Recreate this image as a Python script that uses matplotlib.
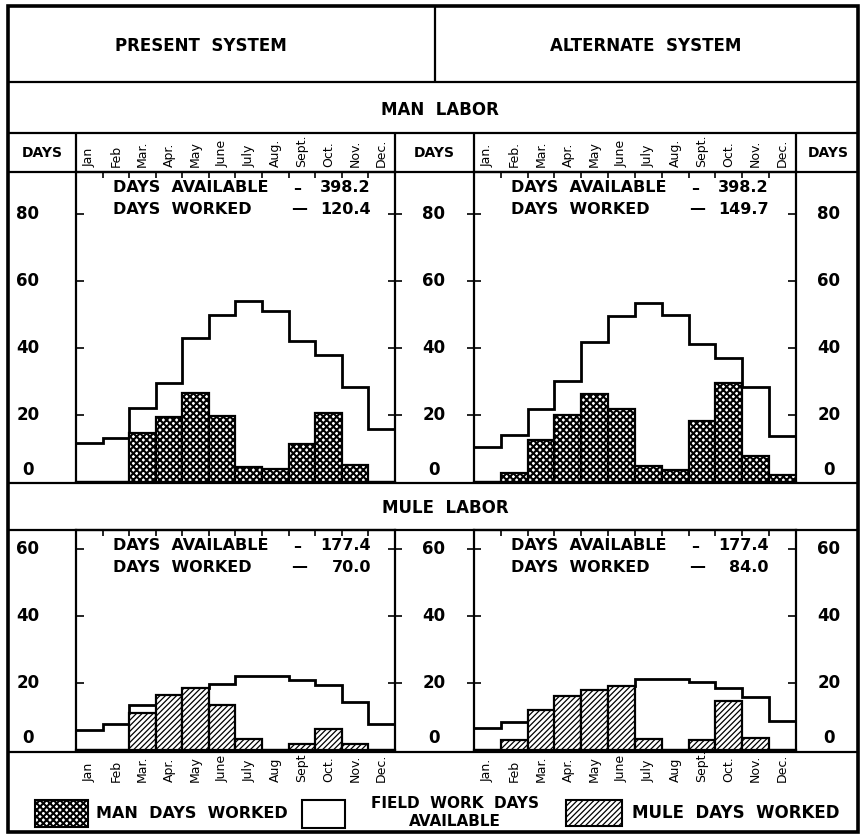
import numpy as np
import matplotlib
matplotlib.use("Agg")
import matplotlib.pyplot as plt
from matplotlib.patches import Rectangle

W, H = 862, 839
INK = "black"
FONT = "DejaVu Sans"

# ---- data (days per month) ----
MONTHS_TL = ["Jan", "Feb", "Mar.", "Apr.", "May", "June", "July", "Aug.", "Sept.", "Oct.", "Nov.", "Dec."]
MONTHS_TR = ["Jan.", "Feb.", "Mar.", "Apr.", "May", "June", "July", "Aug.", "Sept.", "Oct.", "Nov.", "Dec."]
MONTHS_BL = ["Jan", "Feb", "Mar.", "Apr.", "May", "June", "July", "Aug", "Sept", "Oct.", "Nov.", "Dec."]
MONTHS_BR = ["Jan.", "Feb", "Mar.", "Apr.", "May", "June", "July", "Aug", "Sept.", "Oct.", "Nov.", "Dec."]

man_avail_present = [11.5, 13.2, 22.2, 29.5, 43.0, 49.8, 54.0, 51.0, 42.0, 37.8, 28.5, 15.7]
man_worked_present = [0, 0, 14.5, 19.5, 26.7, 19.8, 4.5, 4.0, 11.2, 20.5, 5.0, 0]
man_avail_alt = [10.5, 14.0, 21.9, 30.2, 41.8, 49.6, 53.3, 49.8, 41.3, 37.0, 28.4, 13.7]
man_worked_alt = [0, 2.8, 12.5, 20.0, 26.2, 21.7, 4.8, 3.6, 18.2, 29.7, 7.8, 2.0]

mule_avail_present = [6.1, 7.7, 13.4, 16.3, 18.6, 19.8, 22.2, 22.0, 20.8, 19.3, 14.4, 7.9]
mule_worked_present = [0, 0, 10.9, 16.3, 18.6, 13.3, 3.3, 0, 1.8, 6.4, 1.8, 0]
mule_avail_alt = [6.6, 8.3, 11.9, 16.2, 18.0, 19.0, 21.3, 21.3, 20.2, 18.5, 15.7, 8.6]
mule_worked_alt = [0, 3.0, 11.9, 16.2, 18.0, 19.0, 3.2, 0, 3.0, 14.6, 3.7, 0]

TOTALS = {"man_p": ("398.2", "120.4"), "man_a": ("398.2", "149.7"),
          "mule_p": ("177.4", "70.0"), "mule_a": ("177.4", "84.0")}

MAN_TICKS = [20, 40, 60, 80]
MULE_TICKS = [20, 40, 60]

# ---- layout in pixels ----
XL = (76, 395)      # left plot
XR = (474, 796)     # right plot
YTOP = (172, 482)   # man panel
YBOT = (530, 750)   # mule panel
PX_PER_DAY = 3.35

fig = plt.figure(figsize=(W / 100, H / 100), dpi=100)
bg = fig.add_axes([0, 0, 1, 1])
bg.set_xlim(0, W); bg.set_ylim(H, 0); bg.axis("off")


def hline(y, x0=8, x1=858, lw=1.6):
    bg.plot([x0, x1], [y, y], color=INK, lw=lw, solid_capstyle="butt")


def vline(x, y0, y1, lw=1.6):
    bg.plot([x, x], [y0, y1], color=INK, lw=lw, solid_capstyle="butt")


def txt(x, y, s, fs=11, ha="center", va="center", **kw):
    bg.text(x, y, s, fontsize=fs, ha=ha, va=va, weight="bold", family=FONT, color=INK, **kw)


# table frame
for y in (82, 133, 172, 483, 530, 752):
    hline(y)
bg.add_patch(Rectangle((8, 6), 850, 826, fill=False, ec=INK, lw=2.6))
vline(435, 6, 82)
for x in (76, 395, 474, 796):
    vline(x, 133, 172)

txt(201, 46, "PRESENT  SYSTEM", fs=12)
txt(646, 46, "ALTERNATE  SYSTEM", fs=12)
txt(440, 110, "MAN  LABOR", fs=12)
txt(445, 508, "MULE  LABOR", fs=12)
txt(42, 153, "DAYS", fs=10)
txt(434, 153, "DAYS", fs=10)
txt(828, 153, "DAYS", fs=10)


def month_labels(xr, y, labels):
    step = (xr[1] - xr[0]) / 12
    for i, m in enumerate(labels):
        bg.text(xr[0] + (i + 0.5) * step, y, m, rotation=90, fontsize=9, ha="center",
                va="bottom", family=FONT, color=INK)


month_labels(XL, 167, MONTHS_TL)
month_labels(XR, 167, MONTHS_TR)
month_labels(XL, 782, MONTHS_BL)
month_labels(XR, 782, MONTHS_BR)


def day_labels(yr, ticks):
    for t in [0] + ticks:
        y = yr[1] - t * PX_PER_DAY - (12 if t == 0 else 0)
        for x in (28, 434, 829):
            txt(x, y, str(t), fs=12)


day_labels(YTOP, MAN_TICKS)
day_labels(YBOT, MULE_TICKS)


def totals(xr, yr, avail, worked):
    x0 = xr[0] + 37
    x1 = xr[0] + 295
    y1 = yr[0] + 16
    y2 = yr[0] + 37
    txt(x0, y1, "DAYS  AVAILABLE", ha="left", fs=11.5)
    txt(x1 - 74, y1, "–", fs=11.5)
    txt(x1, y1, avail, ha="right", fs=11.5)
    txt(x0, y2, "DAYS  WORKED", ha="left", fs=11.5)
    txt(x1 - 72, y2, "—", fs=11.5)
    txt(x1, y2, worked, ha="right", fs=11.5)


def panel(xr, yr, ticks, avail, worked, hatch, hlw, side):
    ax = fig.add_axes([xr[0] / W, 1 - yr[1] / H, (xr[1] - xr[0]) / W, (yr[1] - yr[0]) / H])
    ax.set_facecolor("none")
    ymax = (yr[1] - yr[0]) / PX_PER_DAY
    ax.set_xlim(0, 12); ax.set_ylim(0, ymax)
    ax.stairs(avail, np.arange(13), baseline=None, color=INK, lw=2.0, zorder=2)
    plt.rcParams["hatch.linewidth"] = hlw
    ax.bar(np.arange(12), worked, width=1, align="edge", facecolor="white",
           edgecolor=INK, lw=1.6, hatch=hatch, zorder=3)
    for s in ax.spines.values():
        s.set_linewidth(1.6)
    ax.set_xticks(np.arange(1, 12))
    ax.tick_params(axis="x", top=True, bottom=False, direction="in", length=4, width=1.2,
                   labeltop=False, labelbottom=False)
    ax.set_yticks(ticks)
    ax2 = ax.twinx()
    ax2.set_ylim(ax.get_ylim())
    ax2.set_yticks(ticks)
    ax2.set_facecolor("none")
    for s in ax2.spines.values():
        s.set_visible(False)
    # outer side: ticks inside only; centre side: ticks cross the line
    if side == "left":
        ax.tick_params(axis="y", direction="in", length=6, width=1.2, labelleft=False)
        ax2.tick_params(axis="y", direction="inout", length=10, width=1.2, labelright=False)
    else:
        ax.tick_params(axis="y", direction="inout", length=10, width=1.2, labelleft=False)
        ax2.tick_params(axis="y", direction="in", length=6, width=1.2, labelright=False)
    return ax


CROSS, CROSS_LW = "xxxxx", 1.5
DIAG, DIAG_LW = "//////", 0.9

panel(XL, YTOP, MAN_TICKS, man_avail_present, man_worked_present, CROSS, CROSS_LW, "left")
panel(XR, YTOP, MAN_TICKS, man_avail_alt, man_worked_alt, CROSS, CROSS_LW, "right")
panel(XL, YBOT, MULE_TICKS, mule_avail_present, mule_worked_present, DIAG, DIAG_LW, "left")
panel(XR, YBOT, MULE_TICKS, mule_avail_alt, mule_worked_alt, DIAG, DIAG_LW, "right")

totals(XL, YTOP, *TOTALS["man_p"])
totals(XR, YTOP, *TOTALS["man_a"])
totals(XL, YBOT, *TOTALS["mule_p"])
totals(XR, YBOT, *TOTALS["mule_a"])

# legend
plt.rcParams["hatch.linewidth"] = CROSS_LW
bg.add_patch(Rectangle((35, 800), 53, 27, fc="white", ec=INK, lw=1.5, hatch=CROSS))
txt(96, 813, "MAN  DAYS  WORKED", ha="left", fs=11.5)
bg.add_patch(Rectangle((302, 800), 43, 28, fc="white", ec=INK, lw=1.5))
txt(455, 804, "FIELD  WORK  DAYS", fs=11)
txt(455, 822, "AVAILABLE", fs=11)
plt.rcParams["hatch.linewidth"] = DIAG_LW
bg.add_patch(Rectangle((566, 800), 56, 26, fc="white", ec=INK, lw=1.5, hatch=DIAG))
txt(632, 813, "MULE  DAYS  WORKED", ha="left", fs=12)

fig.savefig("out.png", dpi=100)
